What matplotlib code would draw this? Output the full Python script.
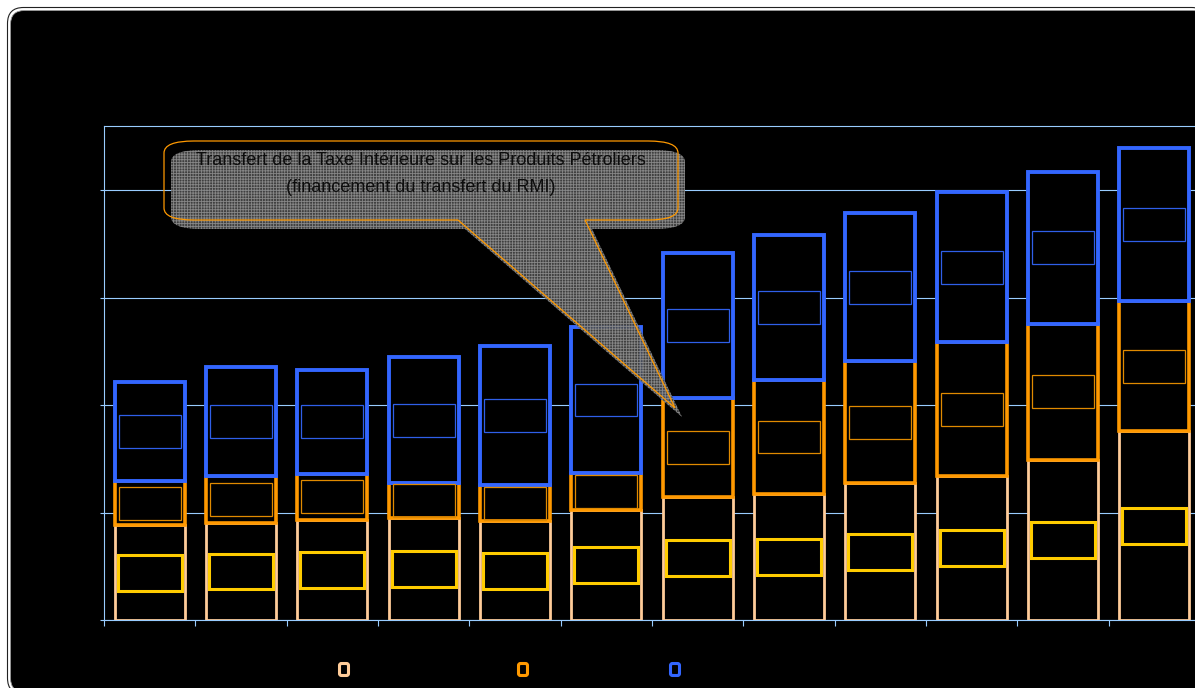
import matplotlib
matplotlib.use("Agg")
import matplotlib.pyplot as plt
import numpy as np
from matplotlib.patches import Rectangle, FancyBboxPatch, PathPatch
from matplotlib.path import Path
from matplotlib.transforms import Affine2D

# ---- data -------------------------------------------------------------
categories = ["1996", "1997", "1998", "1999", "2000", "2001",
              "2002", "2003", "2004", "2005", "2006", "2007"]
base_part = [440, 452, 464, 474, 460, 512, 574, 586, 637, 671, 744, 879]
middle_part = [207, 219, 218, 163, 168, 172, 459, 532, 568, 622, 636, 605]
upper_part = [460, 508, 483, 586, 646, 681, 676, 673, 688, 698, 705, 715]
y_ticks = [0, 500, 1000, 1500, 2000]
callout_text = ("Transfert de la Taxe Intérieure sur les Produits Pétroliers\n"
                "(financement du transfert du RMI)")

# ---- colours ----------------------------------------------------------
PEACH = "#FFCC99"
ORANGE = "#FF9900"
BLUE = "#3366FF"
YELLOW = "#FFCC00"
GRID = "#99CCFF"

W, H = 1195, 688
fig = plt.figure(figsize=(W / 100, H / 100), dpi=100)
fig.patch.set_facecolor("white")
# pixel transform (origin bottom-left, 1 unit = 1 px)
pxu = Affine2D().scale(1 / W, 1 / H) + fig.transFigure


def fy(y):
    return H - y


# outer rounded frame
fig.add_artist(FancyBboxPatch((7.5, fy(694)), 1200, 686.5,
                              boxstyle="round,pad=0,rounding_size=16",
                              transform=pxu, facecolor="white",
                              edgecolor="#222222", linewidth=0.8, zorder=-3))
fig.add_artist(FancyBboxPatch((10.5, fy(692)), 1196, 681.5,
                              boxstyle="round,pad=0,rounding_size=14",
                              transform=pxu, facecolor="black",
                              edgecolor="#9a9a9a", linewidth=0.6, zorder=-2))

# ---- axes -------------------------------------------------------------
ax_left, ax_right, ax_top, ax_bottom = 104, 1200, 126, 620
ax = fig.add_axes([ax_left / W, fy(ax_bottom) / H,
                   (ax_right - ax_left) / W, (ax_bottom - ax_top) / H])
ax.set_facecolor("black")

x = np.arange(len(categories))
base_arr = np.array(base_part)
mid_arr = np.array(middle_part)
up_arr = np.array(upper_part)
bar_w = 0.767

ax.bar(x, base_arr, width=bar_w, facecolor="black", edgecolor=PEACH,
       linewidth=2.0, zorder=2)
ax.bar(x, mid_arr, bottom=base_arr, width=bar_w, facecolor="black",
       edgecolor=ORANGE, linewidth=2.6, zorder=3)
ax.bar(x, up_arr, bottom=base_arr + mid_arr, width=bar_w, facecolor="black",
       edgecolor=BLUE, linewidth=2.8, zorder=4)

# framed value-label boxes centred in each segment
for xi, b, m, u in zip(x, base_arr, mid_arr, up_arr):
    for bottom, h, col, lw, bw, bh in [
        (0, b, YELLOW, 2.2, 0.70, 167),
        (b, m, "#E08A00", 0.9, 0.68, 153),
        (b + m, u, "#2F5FE8", 0.9, 0.68, 153),
    ]:
        cy = bottom + h / 2
        ax.add_patch(Rectangle((xi - bw / 2, cy - bh / 2), bw, bh,
                               facecolor="none", edgecolor=col,
                               linewidth=lw, zorder=6))

ax.set_xlim(-0.5, len(categories) - 0.5)
ax.set_ylim(0, 2300)
ax.set_yticks(y_ticks)
ax.set_yticklabels([])
ax.set_xticks(np.arange(-0.5, len(categories), 1.0))
ax.set_xticklabels([])
ax.yaxis.grid(True, color=GRID, linewidth=0.8)
ax.set_axisbelow(True)
ax.tick_params(axis="x", direction="out", length=4, color=GRID, width=0.8)
ax.tick_params(axis="y", direction="out", length=3, color=GRID, width=0.8)
for side in ("left", "bottom", "top"):
    ax.spines[side].set_color(GRID)
    ax.spines[side].set_linewidth(0.8)
ax.spines["right"].set_visible(False)


# ---- callout ----------------------------------------------------------
def callout_path(x0, y0, x1, y1, rx, ry, n0, n1, tip, dx=0.0, dy=0.0):
    pts = [
        ((x0 + rx, y0), Path.MOVETO),
        ((x1 - rx, y0), Path.LINETO),
        ((x1, y0), Path.CURVE3), ((x1, y0 + ry), Path.CURVE3),
        ((x1, y1 - ry), Path.LINETO),
        ((x1, y1), Path.CURVE3), ((x1 - rx, y1), Path.CURVE3),
        ((n1, y1), Path.LINETO),
        (tip, Path.LINETO),
        ((n0, y1), Path.LINETO),
        ((x0 + rx, y1), Path.LINETO),
        ((x0, y1), Path.CURVE3), ((x0, y1 - ry), Path.CURVE3),
        ((x0, y0 + ry), Path.LINETO),
        ((x0, y0), Path.CURVE3), ((x0 + rx, y0), Path.CURVE3),
        ((x0 + rx, y0), Path.CLOSEPOLY),
    ]
    verts = [(px + dx, fy(py + dy)) for (px, py), _ in pts]
    codes = [c for _, c in pts]
    return Path(verts, codes)


plt.rcParams["hatch.linewidth"] = 0.6
shadow = PathPatch(callout_path(164, 141, 678, 220, 30, 12, 458, 585,
                                (675, 408), dx=7, dy=9),
                   transform=pxu, facecolor="#474747", edgecolor="#8f8f8f",
                   hatch="++++++", linewidth=0, alpha=0.9, zorder=2)
fig.add_artist(shadow)
outline = PathPatch(callout_path(164, 141, 678, 220, 30, 12, 458, 585,
                                 (675, 408)),
                    transform=pxu, facecolor="none", edgecolor=ORANGE,
                    linewidth=0.9, zorder=4)
fig.add_artist(outline)
fig.text(421, fy(174), callout_text, transform=pxu, ha="center", va="center",
         multialignment="center", linespacing=1.75, color="#0d0d0d",
         fontsize=13, family=["Liberation Sans", "DejaVu Sans"],
         zorder=5)

# ---- legend keys ------------------------------------------------------
for cx, col in [(344, PEACH), (523, ORANGE), (675, BLUE)]:
    fig.add_artist(FancyBboxPatch((cx - 4.5, fy(675.5)), 9, 12,
                                  boxstyle="round,pad=0,rounding_size=2",
                                  transform=pxu, facecolor="black",
                                  edgecolor=col, linewidth=2.2, zorder=3))

fig.savefig("out.png", dpi=100, facecolor=fig.get_facecolor())
